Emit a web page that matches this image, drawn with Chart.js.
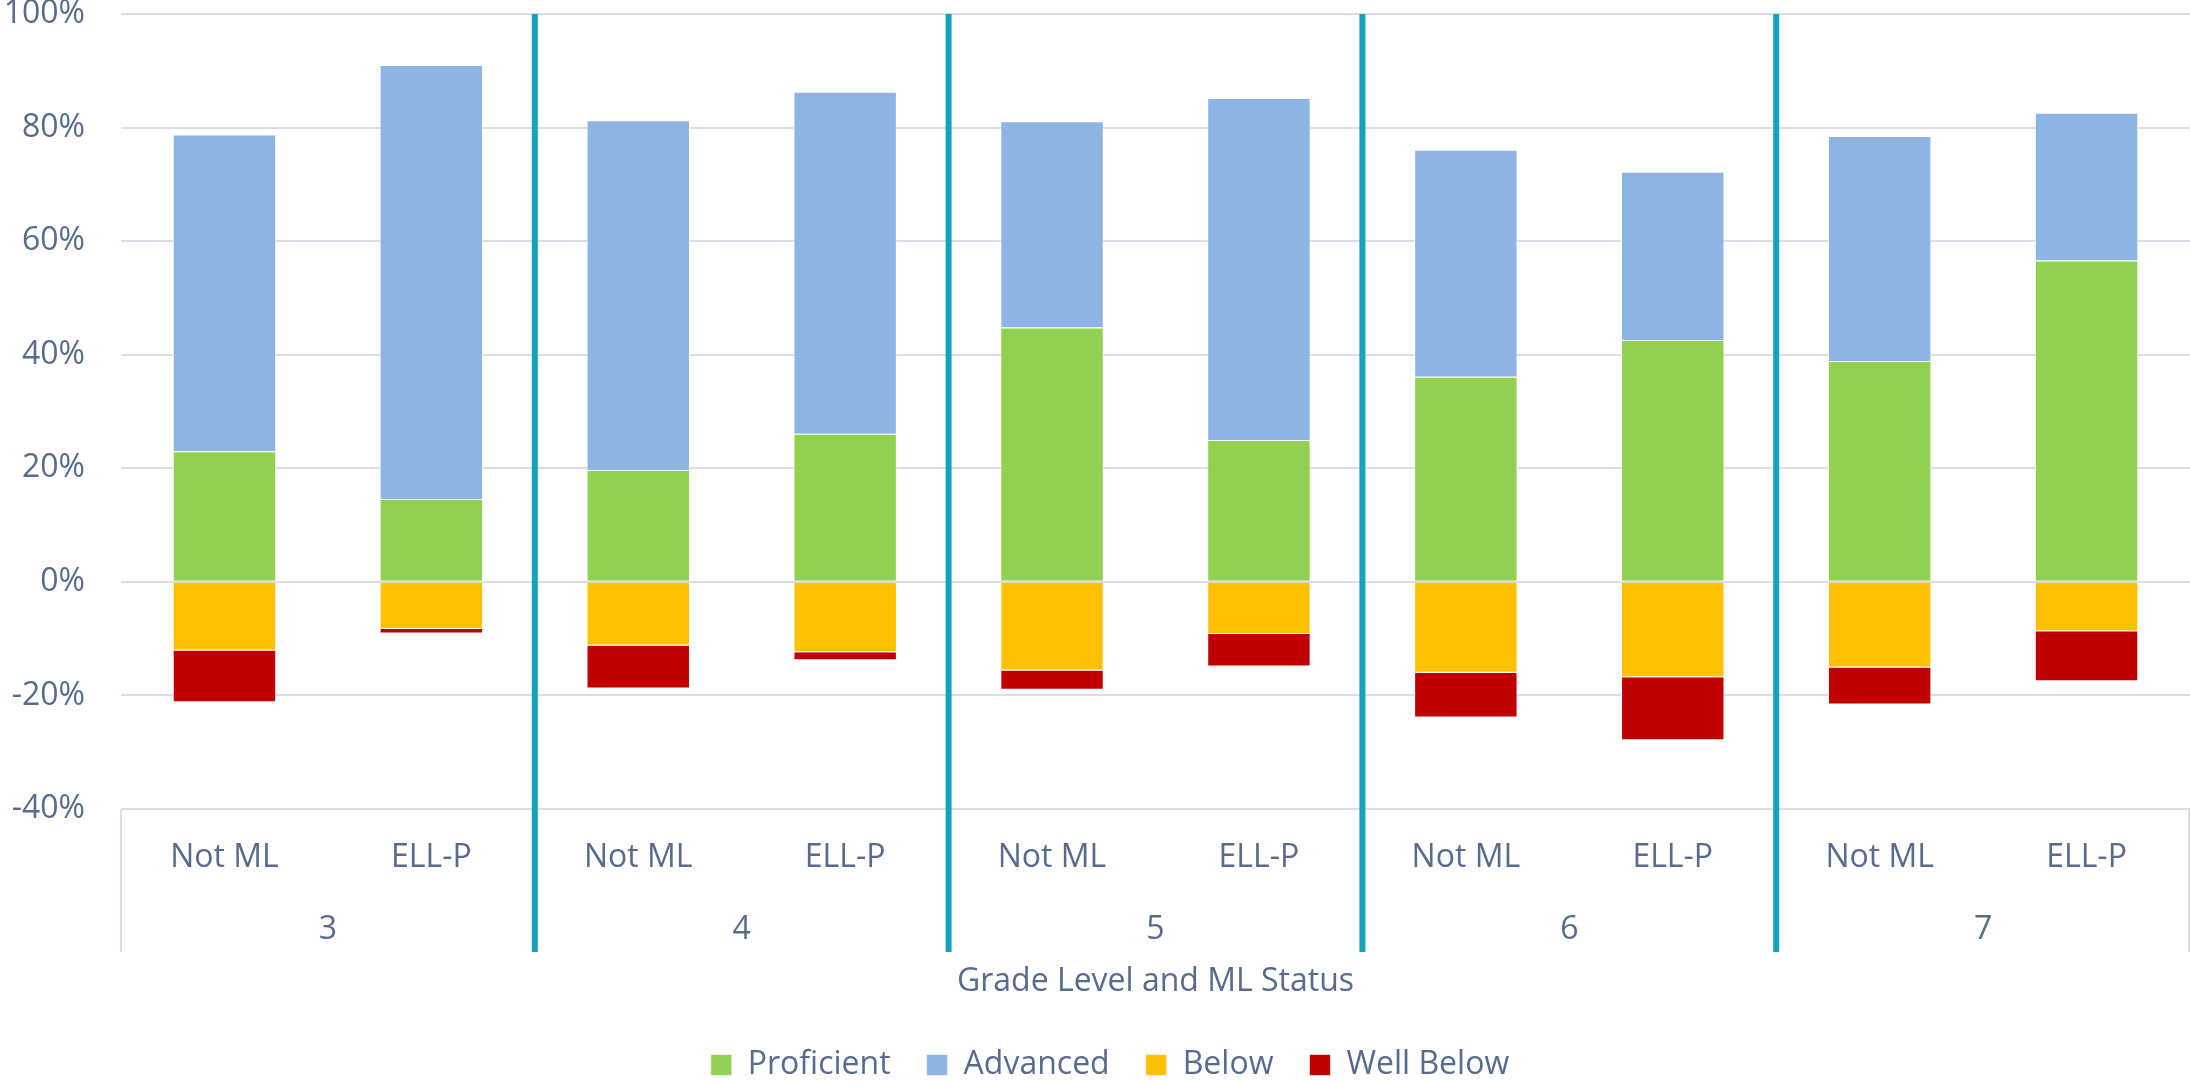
<!DOCTYPE html>
<html>
<head>
<meta charset="utf-8">
<script src="https://cdn.jsdelivr.net/npm/chart.js@4.4.1/dist/chart.umd.min.js"></script>
<style>
body{margin:0;background:#fff;}
#wrap{width:2190px;height:1081px;}
</style>
</head>
<body>
<div id="wrap"><canvas id="chart"></canvas></div>
<script>
const subLabels=['Not ML','ELL-P','Not ML','ELL-P','Not ML','ELL-P','Not ML','ELL-P','Not ML','ELL-P'];
const grades=['3','4','5','6','7'];
const proficient=[23.0,14.6,19.7,26.1,44.8,25.0,36.1,42.6,38.9,56.6];
const advanced=[55.8,76.4,61.6,60.2,36.3,60.2,40.0,29.6,39.6,26.0];
const below=[-12.1,-8.3,-11.2,-12.4,-15.6,-9.2,-16.0,-16.8,-15.1,-8.7];
const wellBelow=[-9.1,-0.8,-7.6,-1.4,-3.4,-5.7,-7.9,-11.1,-6.5,-8.8];
const yTicks=[-40,-20,0,20,40,60,80,100];
const axisTitle='Grade Level and ML Status';

const textColor='#586b8d';
const gridColor='#d9dee7';
const teal='#16a3b9';
const font="'Open Sans', sans-serif";
const plotBottom=809;
const boxDepth=143;

Chart.defaults.font.family=font;
Chart.defaults.color=textColor;

// grade level labels, axis title and the teal group separators
const groupAxis={
    id:'groupAxis',
    afterLayout(chart){
        // legend sits a little right of the canvas centre in the original
        chart.legend.left+=15;
        chart.legend.right+=15;
    },
    afterDraw(chart){
        const ctx=chart.ctx;
        const x=chart.scales.x;
        const area=chart.chartArea;
        const b=area.bottom;
        ctx.save();
        ctx.fillStyle=textColor;
        ctx.font="32px "+font;
        ctx.textAlign='center';
        ctx.textBaseline='middle';
        subLabels.forEach((l,i)=>{
            ctx.fillText(l,x.getPixelForValue(i),b+49);
        });
        grades.forEach((g,i)=>{
            const c=(x.getPixelForValue(i*2)+x.getPixelForValue(i*2+1))/2;
            ctx.fillText(g,c,b+121);
        });
        ctx.fillText(axisTitle,(area.left+area.right)/2,b+173);

        ctx.strokeStyle=gridColor;
        ctx.lineWidth=2;
        ctx.beginPath();
        ctx.moveTo(area.left,b);ctx.lineTo(area.left,b+boxDepth);
        ctx.moveTo(area.right-1,b);ctx.lineTo(area.right-1,b+boxDepth);
        ctx.stroke();

        ctx.strokeStyle=teal;
        ctx.lineWidth=6;
        ctx.beginPath();
        for(let i=1;i<grades.length;i++){
            const sx=(x.getPixelForValue(i*2-1)+x.getPixelForValue(i*2))/2;
            ctx.moveTo(sx,area.top);
            ctx.lineTo(sx,b+boxDepth);
        }
        ctx.stroke();
        ctx.restore();
    }
};

let chart=document.getElementById("chart");

new Chart(chart,{
    type:"bar",
    data:{
        labels:subLabels,
        datasets:[
            {label:'Proficient',data:proficient,backgroundColor:'#92d050'},
            {label:'Advanced',data:advanced,backgroundColor:'#8eb4e3'},
            {label:'Below',data:below,backgroundColor:'#ffc000'},
            {label:'Well Below',data:wellBelow,backgroundColor:'#c00000'}
        ]
    },
    options:{
        responsive:true,
        maintainAspectRatio:false,
        devicePixelRatio:1,
        animation:false,
        datasets:{
            bar:{
                categoryPercentage:1,
                barPercentage:0.5,
                borderWidth:1,
                borderColor:'rgba(255,255,255,0.6)'
            }
        },
        layout:{
            padding:{top:14,left:0,right:0,bottom:-10}
        },
        plugins:{
            legend:{
                position:'bottom',
                labels:{
                    boxWidth:21,
                    boxHeight:21,
                    padding:36,
                    color:textColor,
                    font:{size:32}
                }
            },
            tooltip:{enabled:false}
        },
        scales:{
            x:{
                stacked:true,
                grid:{display:false},
                border:{display:false},
                ticks:{display:false},
                afterFit:(s)=>{
                    const lg=s.chart.legend?s.chart.legend.height:0;
                    s.height=s.chart.height+10-plotBottom-lg;
                    s.paddingLeft=0;
                    s.paddingRight=0;
                }
            },
            y:{
                stacked:true,
                min:yTicks[0],
                max:yTicks[yTicks.length-1],
                afterBuildTicks:(s)=>{
                    s.ticks=yTicks.map(v=>({value:v}));
                },
                grid:{color:gridColor,lineWidth:2,drawTicks:false},
                border:{display:false},
                ticks:{
                    padding:36,
                    color:textColor,
                    font:{size:32},
                    callback:(v)=>v+'%'
                },
                afterFit:(s)=>{
                    s.width=121;
                    s.paddingTop=0;
                    s.paddingBottom=0;
                }
            }
        }
    },
    plugins:[groupAxis]
});
</script>
</body>
</html>
